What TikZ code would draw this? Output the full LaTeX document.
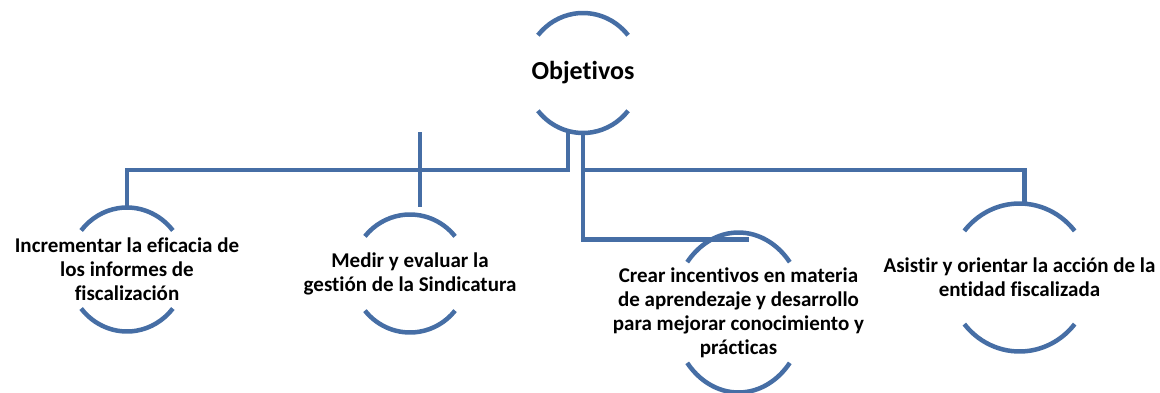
\documentclass[tikz,border=0pt]{standalone}
\usepackage{fontspec}
\setmainfont{Carlito}[Ligatures={NoCommon}]
\usepackage{tikz}
\usetikzlibrary{shapes.geometric}
\definecolor{ringblue}{RGB}{70,110,165}
\tikzstyle{bowl}=[ellipse, inner sep=0pt, outer sep=0pt]
\tikzstyle{ring}=[draw=ringblue, line width=4.5pt]
\tikzstyle{link}=[draw=ringblue, line width=4.5pt]
\tikzstyle{goal}=[align=center, font=\bfseries\fontsize{21}{24}\selectfont]
\tikzstyle{head}=[font=\bfseries\fontsize{26}{30}\selectfont]

\begin{document}
\begin{tikzpicture}[x=1pt, y=1pt]
	\useasboundingbox (0,0) rectangle (1160,392);
	\node[bowl, minimum width=116pt, minimum height=120pt] (obj) at (583,319) {};
	\node[bowl, minimum width=118pt, minimum height=124pt] (inc) at (127,122.5) {};
	\node[bowl, minimum width=116pt, minimum height=118pt] (med) at (410,118.5) {};
	\node[bowl, minimum width=132pt, minimum height=160pt] (cre) at (738.5,79.5) {};
	\node[bowl, minimum width=142pt, minimum height=148pt] (asi) at (1019.5,114.5) {};
	\node[head] (objT) at (obj) {Objetivos};
	\node[goal] (incT) at (inc) {Incrementar la eficacia de\\los informes de\\fiscalización};
	\node[goal] (medT) at (med) {Medir y evaluar la\\gestión de la Sindicatura};
	\node[goal] (creT) at (cre) {Crear incentivos en materia\\de aprendezaje y desarrollo\\para mejorar conocimiento y\\prácticas};
	\node[goal] (asiT) at (asi) {Asistir y orientar la acción de la\\entidad fiscalizada};
	% open rings
	\foreach \n/\rx/\ry in {obj/58/60, inc/59/62, med/58/59, cre/66/80, asi/71/74} {
		\draw[ring] (\n.center) ++(39:\rx pt and \ry pt) arc[start angle=39, end angle=141, x radius=\rx pt, y radius=\ry pt];
		\draw[ring] (\n.center) ++(219:\rx pt and \ry pt) arc[start angle=219, end angle=321, x radius=\rx pt, y radius=\ry pt];
	}
	% branches
	\draw[link] ([xshift=-15pt]obj.south) -- ++(0,-37) -| (inc.north);
	\draw[link] ([yshift=-37pt]obj.south) -| ([xshift=5pt]asi.north);
	\draw[link] (obj.south) |- ([xshift=10pt, yshift=-7pt]cre.north);
	\draw[link] ([xshift=10pt, yshift=8pt]med.north) -- ++(0,75);
\end{tikzpicture}
\end{document}
